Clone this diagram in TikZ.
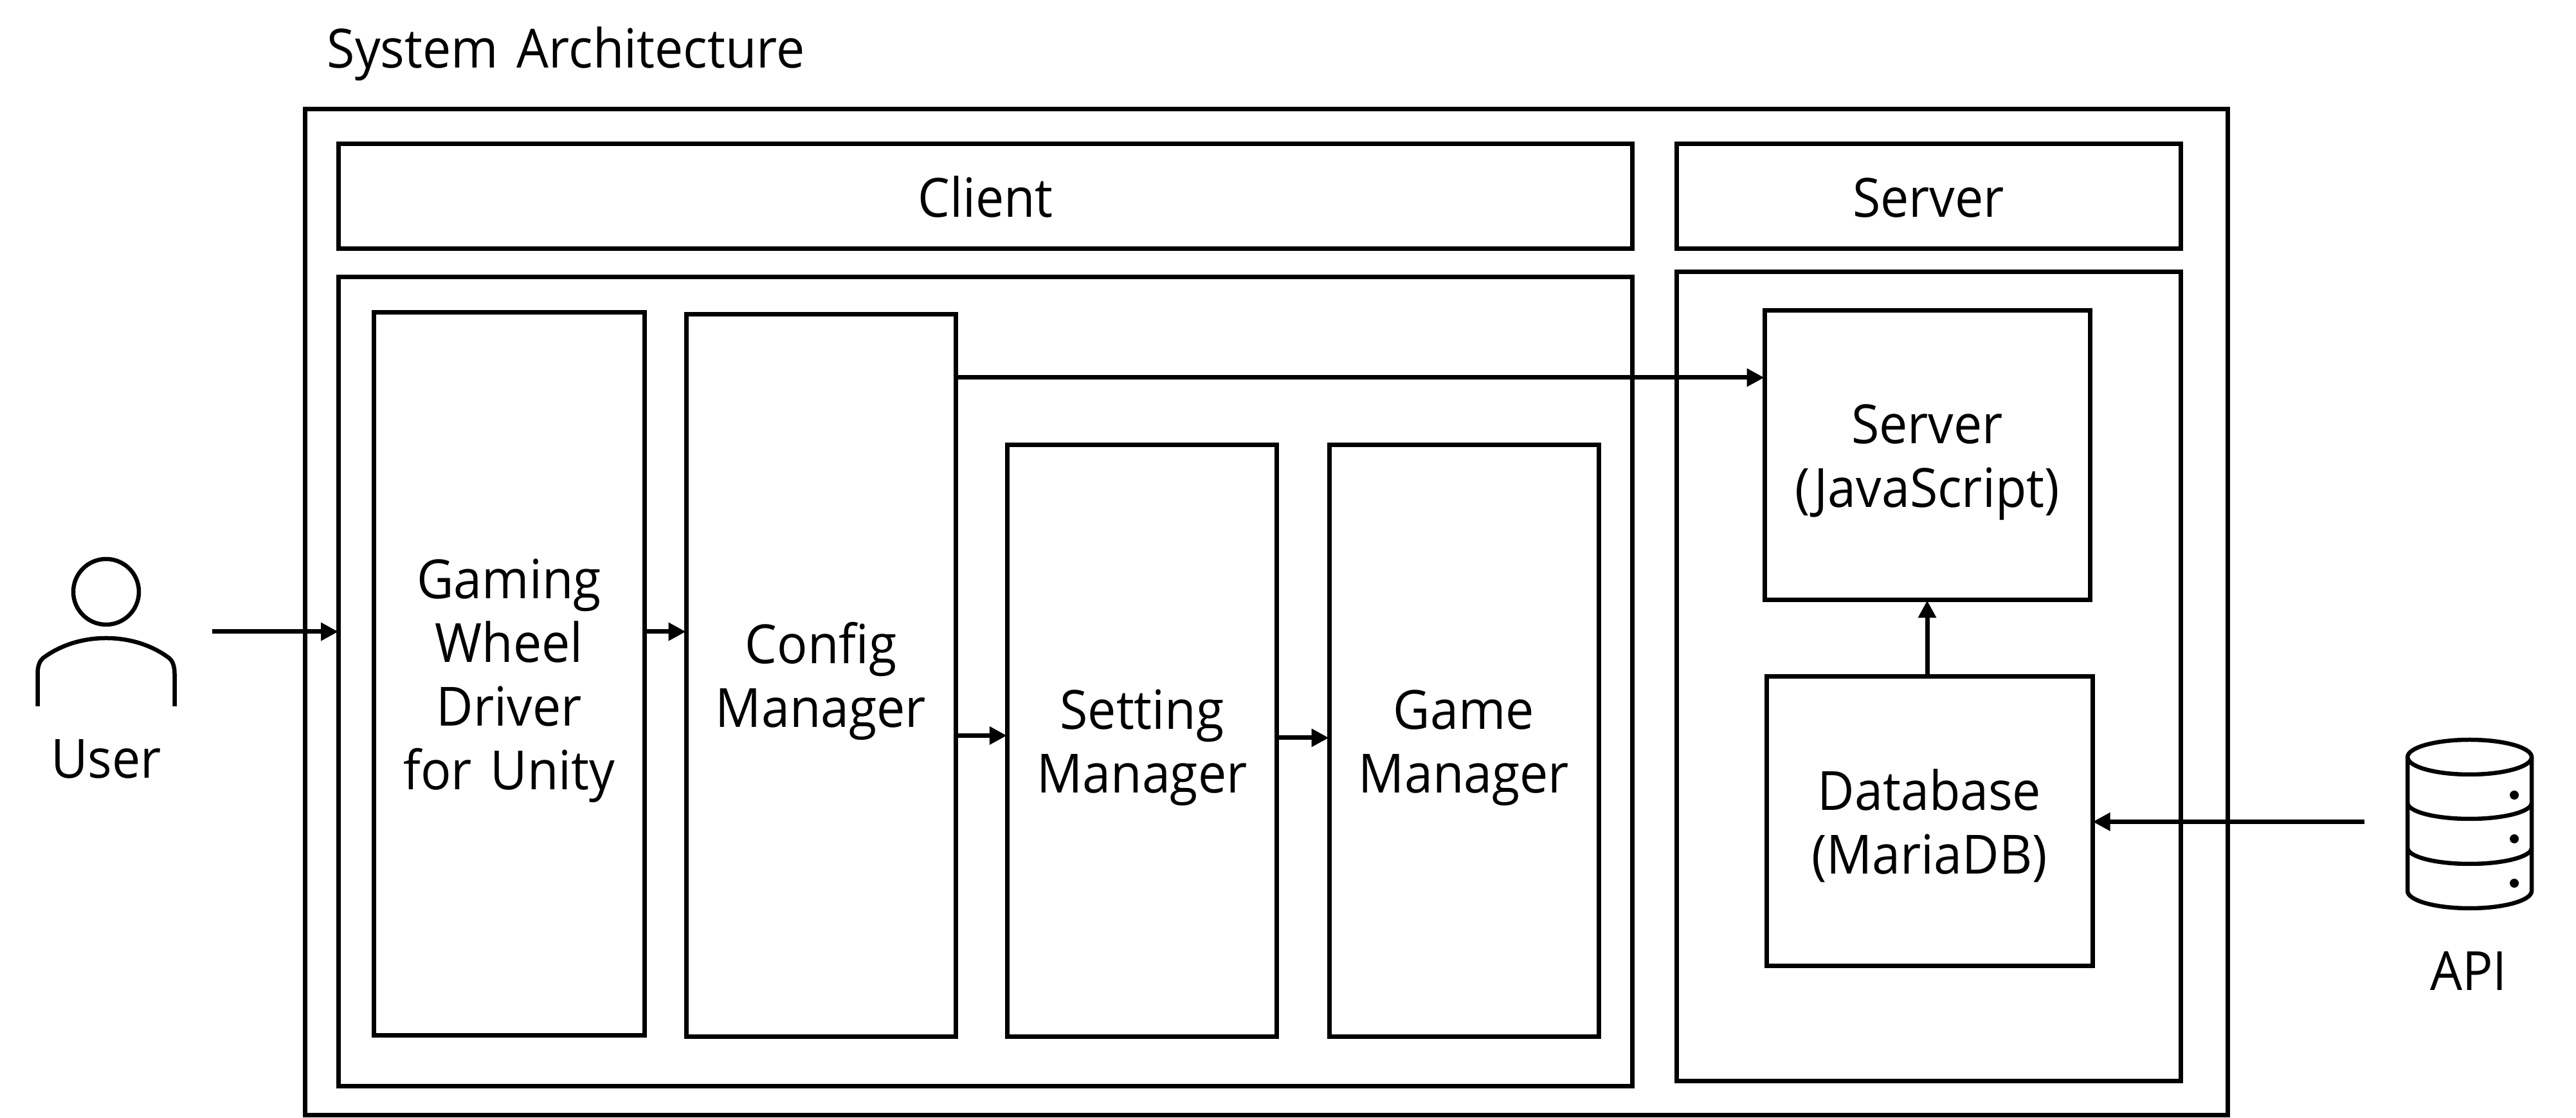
\documentclass[tikz,border=0pt]{standalone}
\usepackage{fontspec}
\setmainfont{Open Sans}[FakeStretch=0.94,WordSpace=1.4]
\usetikzlibrary{arrows.meta}

\newcommand{\boxstrut}{\rule[-1.75mm]{0pt}{9.9mm}}
\tikzset{
  box/.style={draw, line width=0.7mm, inner sep=0pt, align=center,
    font=\fontsize{8.4mm}{9.9mm}\selectfont,
    execute at end node=\boxstrut},
  plain/.style={inner sep=0pt, anchor=base, font=\fontsize{8.4mm}{9.9mm}\selectfont},
  link/.style={-{Triangle[length=2.7mm,width=2.7mm]}, line width=0.7mm, shorten >=-0.3mm},
  icon/.style={line width=0.65mm}
}

\begin{document}
\begin{tikzpicture}
\useasboundingbox (0,0) rectangle (40.06,17.38);
\node [plain, anchor=base west] (title) at (5.08,16.32) {System Architecture};
\node [box, minimum width=29.9cm, minimum height=15.64cm] (system) at (19.69,7.86) {};
% client side
\node [box, minimum width=20.12cm, minimum height=1.625cm] (clienthead) at (15.325,14.3275) {\boxstrut Client};
\node [box, minimum width=20.12cm, minimum height=12.58cm] (clientbody) at (15.325,6.78) {};
\node [box, minimum width=4.205cm, minimum height=11.24cm] (gaming) at (7.9175,6.90) {\boxstrut Gaming\\Wheel\\Driver\\for Unity};
\node [box, minimum width=4.19cm, minimum height=11.23cm] (config) at (12.765,6.875) {\boxstrut Config\\Manager};
\node [box, minimum width=4.195cm, minimum height=9.2cm] (setting) at (17.76,5.86) {\boxstrut Setting\\Manager};
\node [box, minimum width=4.19cm, minimum height=9.2cm] (game) at (22.765,5.86) {\boxstrut Game\\Manager};
% server side
\node [box, minimum width=7.84cm, minimum height=1.625cm] (serverhead) at (29.99,14.3275) {\boxstrut Server};
\node [box, minimum width=7.84cm, minimum height=12.58cm] (serverbody) at (29.99,6.86) {};
\node [box, minimum width=5.06cm, minimum height=4.5cm] (serverbox) at (29.97,10.30) {\boxstrut Server\\(JavaScript)};
\node [box, minimum width=5.07cm, minimum height=4.5cm] (database) at (30.005,4.61) {\boxstrut Database\\(MariaDB)};
% user
\draw [icon] (1.65,8.18) circle [radius=0.51];
\draw [icon] (0.585,6.40) -- (0.585,6.91) .. controls (0.585,7.03) and (0.62,7.11) .. (0.67,7.15)
  .. controls (0.95,7.36) and (1.30,7.46) .. (1.65,7.46)
  .. controls (2.00,7.46) and (2.35,7.36) .. (2.63,7.15)
  .. controls (2.68,7.11) and (2.715,7.03) .. (2.715,6.91) -- (2.715,6.40);
\node [plain] (userlabel) at (1.65,5.28) {User};
% api
\draw [icon] (38.405,5.61) ellipse [x radius=0.965, y radius=0.27];
\draw [icon] (37.44,5.61) -- (37.44,3.53) arc [start angle=180, end angle=360, x radius=0.965, y radius=0.27] -- (39.37,5.61);
\foreach \y in {4.90,4.20}
  \draw [icon] (37.44,\y) arc [start angle=180, end angle=360, x radius=0.965, y radius=0.25];
\foreach \y in {5.02,4.34,3.65}
  \fill (39.10,\y) circle [radius=0.07];
\node [plain] (apilabel) at (38.39,1.98) {API};
% arrows
\coordinate (userout) at (3.30,7.56);
\coordinate (apiout) at (36.77,4.605);
\draw [link] (userout) -- (userout -| clientbody.west);
\draw [link] (gaming.east |- userout) -- (config.west |- userout);
\draw [link] ([yshift=0.085cm]setting.west -| config.east) -- ([yshift=0.085cm]setting.west);
\draw [link] ([yshift=0.05cm]setting.east) -- ([yshift=0.05cm]setting.east -| game.west);
\draw [link] ([yshift=1.21cm]serverbox.west -| config.east) -- ([yshift=1.21cm]serverbox.west);
\draw [link] (serverbox.south |- database.north) -- (serverbox.south);
\draw [link] (apiout) -- (apiout -| database.east);
\end{tikzpicture}
\end{document}
